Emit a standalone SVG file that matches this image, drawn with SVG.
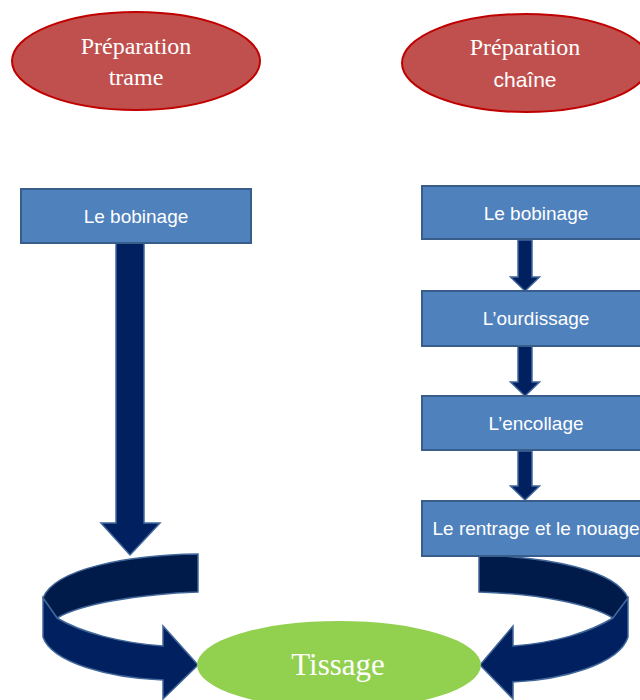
<svg xmlns="http://www.w3.org/2000/svg" width="640" height="700" viewBox="0 0 640 700">
<style>
.prep{fill:#C0504D;stroke:#C00000;stroke-width:2}
.box{fill:#4F81BD;stroke:#385D8A;stroke-width:2}
.arr{fill:#002060;stroke:#41679A;stroke-width:1.5;stroke-linejoin:miter}
.back{fill:#001A4A;stroke:#41679A;stroke-width:1.5}
.serif{font-family:"Liberation Serif","Times New Roman",serif;fill:#FFFFFF;text-anchor:middle}
.sans{font-family:"Liberation Sans",Arial,sans-serif;fill:#FFFFFF;text-anchor:middle;font-size:19px}
</style>
<rect width="640" height="700" fill="#FFFFFF"/>
<g id="connectors">
  <polygon class="arr" points="116,243 144,243 144,523 160,523 130,555 101,523 116,523"/>
  <polygon class="arr" points="518,240 532,240 532,277 539.5,277 525,291 510.5,277 518,277"/>
  <polygon class="arr" points="518,346 532,346 532,382 539.5,382 525,396 510.5,382 518,382"/>
  <polygon class="arr" points="518,451 532,451 532,486 539.5,486 525,500 510.5,486 518,486"/>
  <g id="curve-left">
    <path class="back" d="M198,554 C130,555 55,568 43,598 L57,618 C80,604 140,594 198,592 Z"/>
    <path class="arr" d="M43,598 L57,618 C80,632 120,643 163,646 L163,626 L198,665 L163,699 L163,680 C110,678 52,663 43,637 Z"/>
  </g>
  <g id="curve-right">
    <path class="back" d="M479,555 C550,557 615,570 628,598 L613,618 C590,604 540,594 479,592 Z"/>
    <path class="arr" d="M628,598 L613,618 C590,632 555,643 513,646 L513,626 L480,665 L513,699 L513,682 C560,680 619,665 628,637 Z"/>
  </g>
</g>
<g id="prep-trame">
  <ellipse class="prep" cx="136" cy="61" rx="124" ry="49"/>
  <text class="serif" x="136" y="54" font-size="24">Préparation</text>
  <text class="serif" x="136" y="85" font-size="24">trame</text>
</g>
<g id="prep-chaine">
  <ellipse class="prep" cx="526" cy="63" rx="124" ry="49"/>
  <text class="serif" x="525" y="55" font-size="24">Préparation</text>
  <text class="sans" x="525" y="87" font-size="21" style="font-size:21px">chaîne</text>
</g>
<g id="bobinage-trame">
  <rect class="box" x="21" y="189" width="230" height="54"/>
  <text class="sans" x="136" y="223">Le bobinage</text>
</g>
<g id="bobinage-chaine">
  <rect class="box" x="422" y="186" width="230" height="53"/>
  <text class="sans" x="536" y="220">Le bobinage</text>
</g>
<g id="ourdissage">
  <rect class="box" x="422" y="291" width="230" height="55"/>
  <text class="sans" x="536" y="325">L’ourdissage</text>
</g>
<g id="encollage">
  <rect class="box" x="422" y="396" width="230" height="54"/>
  <text class="sans" x="536" y="430">L’encollage</text>
</g>
<g id="rentrage">
  <rect class="box" x="422" y="501" width="230" height="55"/>
  <text class="sans" x="536" y="535">Le rentrage et le nouage</text>
</g>
<g id="tissage">
  <ellipse cx="339" cy="665" rx="142" ry="44" fill="#92D050"/>
  <text class="serif" x="338" y="675" font-size="31">Tissage</text>
</g>
</svg>
